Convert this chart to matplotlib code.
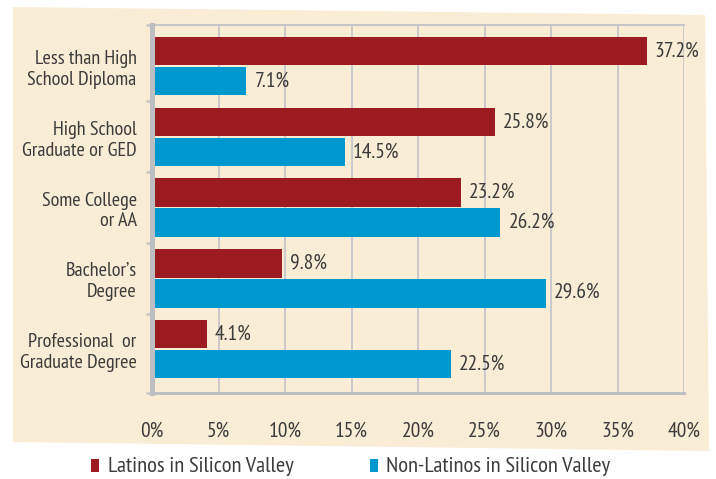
import numpy as np
import matplotlib
matplotlib.use("Agg")
import matplotlib.pyplot as plt
from matplotlib.patches import Polygon, Rectangle

# data
categories = ["Less than High\nSchool Diploma", "High School\nGraduate or GED",
              "Some College\nor AA", "Bachelor’s\nDegree",
              "Professional  or\nGraduate Degree"]
latinos = [37.2, 25.8, 23.2, 9.8, 4.1]
non_latinos = [7.1, 14.5, 26.2, 29.6, 22.5]
series_names = ["Latinos in Silicon Valley", "Non-Latinos in Silicon Valley"]
xticks = [0, 5, 10, 15, 20, 25, 30, 35, 40]

red = "#9B1B20"
blue = "#0099CF"
cream = "#FAEDD5"
grid_c = "#C6C6CA"
text_c = "#3C3C3C"

plt.rcParams['font.family'] = ['PT Sans Narrow', 'Archivo Narrow', 'Liberation Sans', 'DejaVu Sans']
fs_cat = 14.5
fs_num = 15.5
fs_leg = 16.2

W, H = 716, 479
fig = plt.figure(figsize=(W / 100, H / 100), dpi=100)

# tilted cream panel behind the chart (pixel corners)
corners = [(13, 7), (705, 15), (709, 451), (13, 442)]
panel = Polygon([(x / W, 1 - y / H) for x, y in corners], closed=True,
                transform=fig.transFigure, facecolor=cream, edgecolor="none", zorder=-5)
fig.patches.append(panel)

ax = fig.add_axes([152 / W, 1 - 393 / H, 532 / W, 368 / H])
ax.set_facecolor("none")
ax.set_zorder(2)

y = np.arange(len(categories))
h = 0.40
off = 0.212
ax.barh(y - off, latinos, height=h, color=red, zorder=3)
ax.barh(y + off, non_latinos, height=h, color=blue, zorder=3)

for yi, v in zip(y, latinos):
    ax.text(v + 0.6, yi - off, f"{v}%", va="center", ha="left", fontsize=fs_num, color=text_c)
for yi, v in zip(y, non_latinos):
    ax.text(v + 0.6, yi + off, f"{v}%", va="center", ha="left", fontsize=fs_num, color=text_c)

top, bottom = -0.58, 4.62
ax.set_ylim(bottom, top)
ax.set_xlim(0, 40)
ax.set_xticks(xticks)
ax.set_xticklabels([f"{t}%" for t in xticks], fontsize=fs_num, color=text_c)
ax.set_yticks(y)
ax.set_yticklabels(categories, fontsize=fs_cat, color=text_c, ha="right")
ax.set_yticks([top, 0.5, 1.5, 2.5, 3.5, bottom], minor=True)
ax.tick_params(axis="x", length=0, pad=21)
ax.tick_params(axis="y", which="major", length=0, pad=11)
ax.tick_params(axis="y", which="minor", length=4, width=1.8, color=grid_c)

ax.grid(axis="x", color=grid_c, linewidth=1.3, zorder=1)
ax.set_axisbelow(True)
ax.spines["right"].set_visible(False)
ax.spines["left"].set_color("#BEBFC3")
ax.spines["left"].set_linewidth(3.6)
ax.spines["left"].set_zorder(4)
ax.spines["bottom"].set_color("#BEBFC3")
ax.spines["bottom"].set_linewidth(2.2)
ax.spines["top"].set_color(grid_c)
ax.spines["top"].set_linewidth(1.5)

# legend drawn below the panel
leg_x = [90.5, 369.5]
for lx, c, name in zip(leg_x, [red, blue], series_names):
    fig.patches.append(Rectangle((lx / W, 1 - 472 / H), 8 / W, 13 / H,
                                 transform=fig.transFigure, facecolor=c, edgecolor="none"))
    fig.text((lx + 17) / W, 1 - 466 / H, name, fontsize=fs_leg, color=text_c,
             va="center", ha="left")

fig.savefig("out.png", dpi=100)
